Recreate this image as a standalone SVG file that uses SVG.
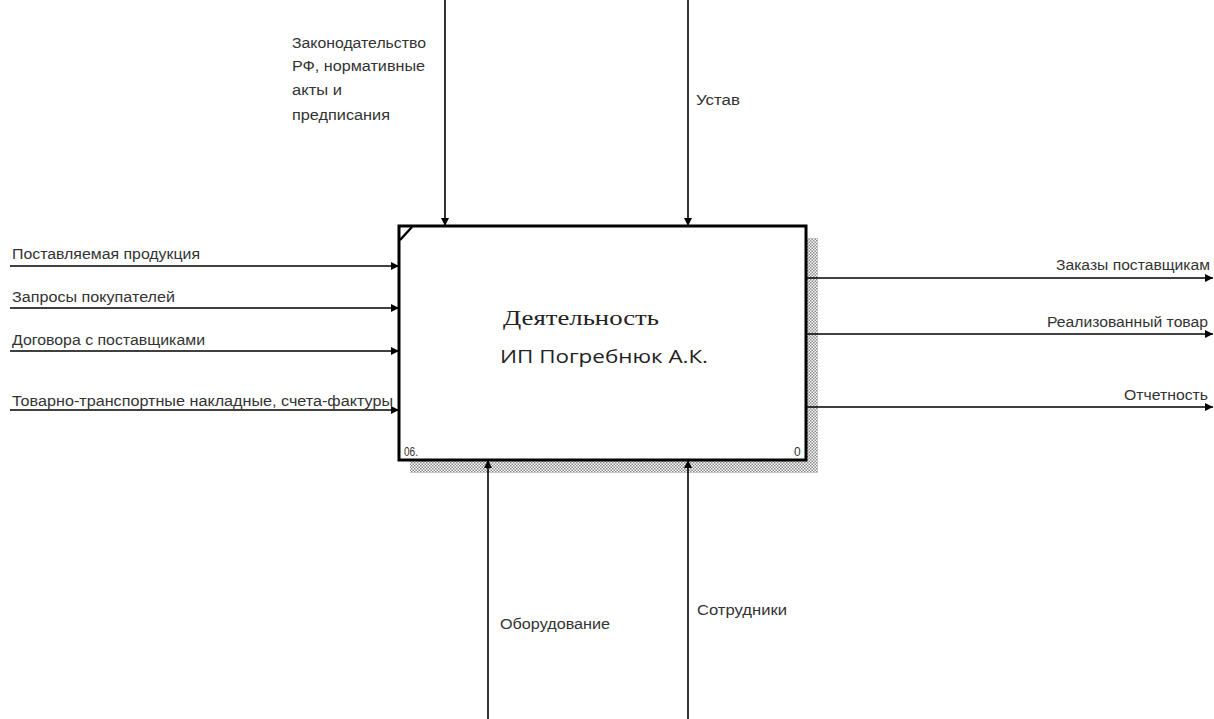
<svg xmlns="http://www.w3.org/2000/svg" width="1214" height="719" viewBox="0 0 1214 719">
<style>
.lbl{font-family:"Liberation Sans",Arial,sans-serif;font-size:14px;fill:#333}
.ln{stroke:#000;stroke-width:1.6;fill:none}
</style>
<defs>
<marker id="ah" viewBox="0 0 10 10" refX="10" refY="5" markerWidth="8" markerHeight="8" markerUnits="userSpaceOnUse" orient="auto">
<path d="M0,0 L10,5 L0,10 Z" fill="#000"/>
</marker>
<pattern id="hatch" width="3" height="3" patternUnits="userSpaceOnUse">
<rect width="3" height="3" fill="#fff"/>
<rect width="1.5" height="1.5" fill="#888"/>
<rect x="1.5" y="1.5" width="1.5" height="1.5" fill="#888"/>
</pattern>
</defs>
<rect width="1214" height="719" fill="#fff"/>
<g id="node-main">
<rect x="806" y="238" width="12" height="235" fill="url(#hatch)"/>
<rect x="410" y="460" width="408" height="13" fill="url(#hatch)"/>
<rect x="399" y="226" width="407" height="234" fill="#fff" stroke="#000" stroke-width="3"/>
<line x1="400" y1="240" x2="412" y2="227" stroke="#000" stroke-width="2.5"/>
<text x="503" y="325" style="font-family:'Liberation Serif','Times New Roman',serif;font-size:21px;fill:#222" textLength="156" lengthAdjust="spacingAndGlyphs">Деятельность</text>
<text x="500" y="363" style="font-family:'Open Sans','Noto Sans',sans-serif;font-size:18px;fill:#222" textLength="208" lengthAdjust="spacingAndGlyphs">ИП Погребнюк А.К.</text>
<text x="404" y="456" class="lbl" style="font-size:12px" textLength="14" lengthAdjust="spacingAndGlyphs">06.</text>
<text x="794" y="456" class="lbl" style="font-size:12px">0</text>
</g>
<g id="connectors">
<line class="ln" x1="445" y1="0" x2="445" y2="226" marker-end="url(#ah)"/>
<line class="ln" x1="688" y1="0" x2="688" y2="226" marker-end="url(#ah)"/>
<line class="ln" x1="10" y1="266" x2="399" y2="266" marker-end="url(#ah)"/>
<line class="ln" x1="10" y1="308" x2="399" y2="308" marker-end="url(#ah)"/>
<line class="ln" x1="10" y1="351" x2="399" y2="351" marker-end="url(#ah)"/>
<line class="ln" x1="10" y1="410" x2="399" y2="410" marker-end="url(#ah)"/>
<line class="ln" x1="806" y1="278" x2="1213" y2="278" marker-end="url(#ah)"/>
<line class="ln" x1="806" y1="334" x2="1213" y2="334" marker-end="url(#ah)"/>
<line class="ln" x1="806" y1="407" x2="1213" y2="407" marker-end="url(#ah)"/>
<line class="ln" x1="488" y1="719" x2="488" y2="460" marker-end="url(#ah)"/>
<line class="ln" x1="688" y1="719" x2="688" y2="460" marker-end="url(#ah)"/>
</g>
<g id="labels">
<text class="lbl" x="292" y="48" textLength="134" lengthAdjust="spacingAndGlyphs">Законодательство</text>
<text class="lbl" x="292" y="71" textLength="133" lengthAdjust="spacingAndGlyphs">РФ, нормативные</text>
<text class="lbl" x="292" y="95" textLength="50" lengthAdjust="spacingAndGlyphs">акты и</text>
<text class="lbl" x="292" y="120" textLength="98" lengthAdjust="spacingAndGlyphs">предписания</text>
<text class="lbl" x="696" y="105" textLength="44" lengthAdjust="spacingAndGlyphs">Устав</text>
<text class="lbl" x="12" y="259" textLength="188" lengthAdjust="spacingAndGlyphs">Поставляемая продукция</text>
<text class="lbl" x="12" y="302" textLength="163" lengthAdjust="spacingAndGlyphs">Запросы покупателей</text>
<text class="lbl" x="12" y="345" textLength="193" lengthAdjust="spacingAndGlyphs">Договора с поставщиками</text>
<text class="lbl" x="12" y="406" textLength="381" lengthAdjust="spacingAndGlyphs">Товарно-транспортные накладные, счета-фактуры</text>
<text class="lbl" x="1056" y="270" textLength="154" lengthAdjust="spacingAndGlyphs">Заказы поставщикам</text>
<text class="lbl" x="1047" y="327" textLength="161" lengthAdjust="spacingAndGlyphs">Реализованный товар</text>
<text class="lbl" x="1124" y="400" textLength="84" lengthAdjust="spacingAndGlyphs">Отчетность</text>
<text class="lbl" x="500" y="629" textLength="110" lengthAdjust="spacingAndGlyphs">Оборудование</text>
<text class="lbl" x="697" y="615" textLength="90" lengthAdjust="spacingAndGlyphs">Сотрудники</text>
</g>
</svg>
